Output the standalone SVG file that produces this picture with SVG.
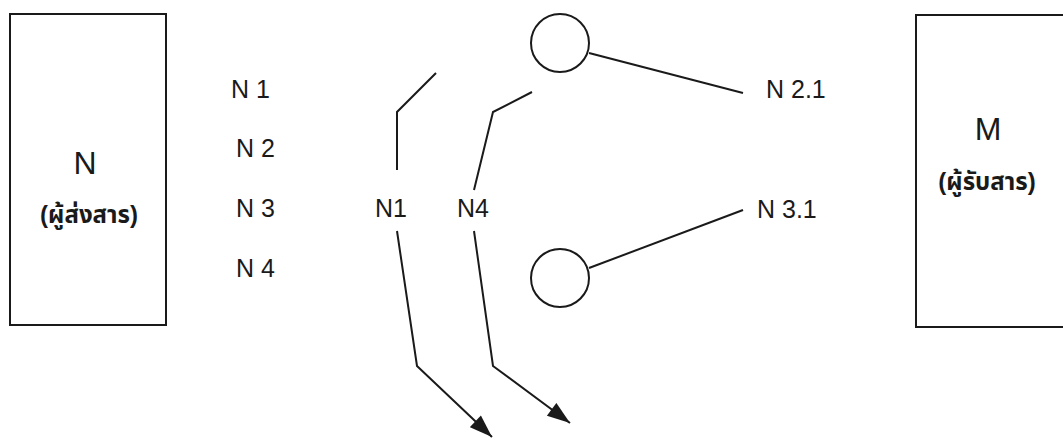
<svg xmlns="http://www.w3.org/2000/svg" width="1063" height="440" viewBox="0 0 1063 440">
<defs>
<style>
.box{fill:#fff;stroke:#1a1a1a;stroke-width:2}
.ln{fill:none;stroke:#1a1a1a;stroke-width:2}
.t{font-family:"Liberation Sans","Noto Sans Thai","Noto Sans",sans-serif;fill:#1a1a1a}
.lbl{font-size:25px}
.big{font-size:32px}
.th{font-size:24px;font-weight:bold}
</style>
<marker id="arrow" viewBox="0 0 20 14" refX="20" refY="7" markerWidth="24" markerHeight="16" markerUnits="userSpaceOnUse" orient="auto">
<path d="M0,0 L20,7 L0,14 z" fill="#1a1a1a"/>
</marker>
</defs>
<rect width="1063" height="440" fill="#fff"/>
<g id="sender">
<rect class="box" x="10" y="14" width="156" height="311"/>
<text class="t big" x="85" y="174" text-anchor="middle">N</text>
<text class="t th" x="89" y="223" text-anchor="middle">(ผู้ส่งสาร)</text>
</g>
<g id="receiver">
<rect class="box" x="916" y="15" width="160" height="312"/>
<text class="t big" x="988" y="140" text-anchor="middle">M</text>
<text class="t th" x="987" y="190" text-anchor="middle">(ผู้รับสาร)</text>
</g>
<g id="labels">
<text class="t lbl" x="231" y="98">N 1</text>
<text class="t lbl" x="236" y="157">N 2</text>
<text class="t lbl" x="236" y="217">N 3</text>
<text class="t lbl" x="236" y="277">N 4</text>
<text class="t lbl" x="375" y="217">N1</text>
<text class="t lbl" x="457" y="217">N4</text>
<text class="t lbl" x="766" y="98">N 2.1</text>
<text class="t lbl" x="757" y="218">N 3.1</text>
</g>
<g id="node-top">
<circle class="ln" cx="560" cy="43" r="29"/>
</g>
<g id="node-bottom">
<circle class="ln" cx="560" cy="278" r="29"/>
</g>
<g id="connectors">
<polyline class="ln" points="397,170 397,112 436,73"/>
<polyline class="ln" points="474,190 493,112 532,92"/>
<polyline class="ln" points="397,231 417,366 492,437" marker-end="url(#arrow)"/>
<polyline class="ln" points="474,231 493,366 570,423" marker-end="url(#arrow)"/>
<line class="ln" x1="589" y1="53" x2="743" y2="93"/>
<line class="ln" x1="589" y1="268" x2="743" y2="210"/>
</g>
</svg>
